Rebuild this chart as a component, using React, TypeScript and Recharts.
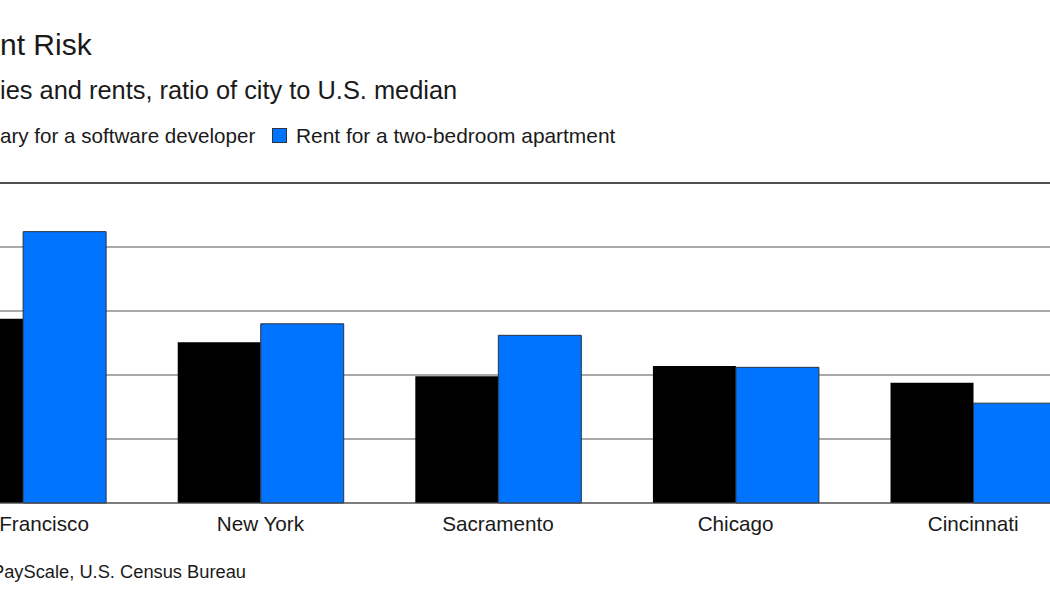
import React from 'react'
import { BarChart, Bar, XAxis, YAxis, CartesianGrid, ReferenceLine } from 'recharts'

const cities = ['San Francisco', 'New York', 'Sacramento', 'Chicago', 'Cincinnati']
const salary = [1.44, 1.255, 0.99, 1.07, 0.94]
const rent = [2.12, 1.4, 1.31, 1.06, 0.78]
const yTicks = [0, 0.5, 1, 1.5, 2, 2.5]

const salaryName = 'Salary for a software developer'
const rentName = 'Rent for a two-bedroom apartment'

const data = cities.map((city, i) => ({ city, salary: salary[i], rent: rent[i] }))

const FONT = '"Liberation Sans", Arial, Helvetica, sans-serif'
const INK = '#1a1a1a'
const BLUE = '#0073ff'

const App = () => {
    return (
        <div
            style={{
                position: 'fixed',
                left: 0,
                top: 0,
                width: 1050,
                height: 600,
                overflow: 'hidden',
                background: '#fff',
                fontFamily: FONT
            }}
        >
            <div style={{ position: 'absolute', left: -96.1, top: 0 }}>
                <BarChart
                    width={1188}
                    height={540}
                    data={data}
                    margin={{ top: 183, right: 0, bottom: 0, left: 0 }}
                    barGap={0}
                    barCategoryGap="15.2%"
                >
                    <CartesianGrid vertical={false} stroke="#555" strokeWidth={1.2} />
                    <YAxis hide domain={[0, 2.5]} ticks={yTicks} />
                    <XAxis
                        dataKey="city"
                        height={37}
                        tickLine={false}
                        tickSize={0}
                        tickMargin={13}
                        axisLine={{ stroke: '#555', strokeWidth: 1.2 }}
                        tick={{ fill: INK, fontSize: 20.7, fontFamily: FONT }}
                        interval={0}
                    />
                    <ReferenceLine y={2.5} stroke="#333" strokeWidth={1.6} />
                    <Bar dataKey="salary" name={salaryName} fill="#000" isAnimationActive={false} />
                    <Bar
                        dataKey="rent"
                        name={rentName}
                        fill={BLUE}
                        stroke="#2b3440"
                        strokeWidth={1}
                        isAnimationActive={false}
                    />
                </BarChart>
            </div>
            <svg
                width={1050}
                height={600}
                style={{ position: 'absolute', left: 0, top: 0, pointerEvents: 'none' }}
            >
                <text x={0} y={55} fontSize={30} fill={INK} fontFamily={FONT}>
                    nt Risk
                </text>
                <text x={0} y={99} fontSize={25.4} fill={INK} fontFamily={FONT}>
                    ies and rents, ratio of city to U.S. median
                </text>
                <text x={0} y={143} fontSize={20.6} fill={INK} fontFamily={FONT}>
                    ary for a software developer
                </text>
                <rect x={272.5} y={128.5} width={14} height={14} fill={BLUE} stroke="#2b3440" strokeWidth={1} />
                <text x={296} y={143} fontSize={20.9} fill={INK} fontFamily={FONT}>
                    {rentName}
                </text>
                <text x={-8} y={578} fontSize={18.3} fill={INK} fontFamily={FONT}>
                    PayScale, U.S. Census Bureau
                </text>
            </svg>
        </div>
    )
}

export default App
